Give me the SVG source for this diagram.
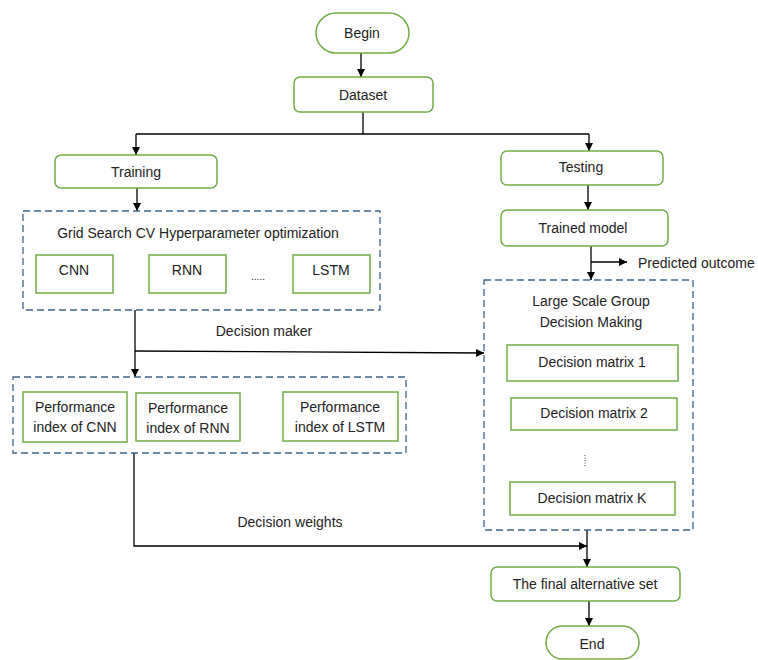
<svg xmlns="http://www.w3.org/2000/svg" width="758" height="660" viewBox="0 0 758 660">
<defs>
<marker id="ah" viewBox="0 0 10 10" refX="10" refY="5" markerWidth="8" markerHeight="8" markerUnits="userSpaceOnUse" orient="auto"><path d="M0,0 L10,5 L0,10 z" fill="#000"/></marker>
<style>
.n{fill:#fff;stroke:#70AD47;stroke-width:1.5}
.d{fill:none;stroke:#3E6489;stroke-width:1.3;stroke-dasharray:7,4}
.c{fill:none;stroke:#000;stroke-width:1.3}
text{font-family:"Liberation Sans",Arial,sans-serif;font-size:14px;fill:#222;text-anchor:middle;dominant-baseline:central}
</style>
</defs>
<rect width="758" height="660" fill="#fff"/>
<g id="connectors">
<path class="c" d="M361,53 V77" marker-end="url(#ah)"/>
<path class="c" d="M363,112 V134"/>
<path class="c" d="M136,134 H589"/>
<path class="c" d="M136,134 V155" marker-end="url(#ah)"/>
<path class="c" d="M589,134 V151" marker-end="url(#ah)"/>
<path class="c" d="M137,188 V211" marker-end="url(#ah)"/>
<path class="c" d="M588,185 V210" marker-end="url(#ah)"/>
<path class="c" d="M591,246 V280" marker-end="url(#ah)"/>
<path class="c" d="M591,262 H627" marker-end="url(#ah)"/>
<path class="c" d="M135,310 V377" marker-end="url(#ah)"/>
<path class="c" d="M135,351 L484,353" marker-end="url(#ah)"/>
<path class="c" d="M134,453 V546 H587" marker-end="url(#ah)"/>
<path class="c" d="M587,530 V567" marker-end="url(#ah)"/>
<path class="c" d="M589,601 V626" marker-end="url(#ah)"/>
</g>
<g id="begin"><rect class="n" x="316" y="13" width="93" height="40" rx="20"/><text x="362" y="33">Begin</text></g>
<g id="dataset"><rect class="n" x="294" y="77" width="139" height="35" rx="6"/><text x="363" y="95">Dataset</text></g>
<g id="training"><rect class="n" x="55" y="155" width="162" height="33" rx="6"/><text x="136" y="172">Training</text></g>
<g id="testing"><rect class="n" x="501" y="151" width="162" height="34" rx="6"/><text x="581" y="167">Testing</text></g>
<g id="trained"><rect class="n" x="501" y="210" width="167" height="36" rx="6"/><text x="583" y="228">Trained model</text></g>
<g id="predicted"><text x="638" y="263" style="text-anchor:start">Predicted outcome</text></g>
<g id="gridsearch">
<rect class="d" x="23" y="211" width="357" height="99"/>
<text x="198" y="233">Grid Search CV Hyperparameter optimization</text>
</g>
<g id="cnn"><rect class="n" x="36" y="255" width="77" height="38"/><text x="74" y="270">CNN</text></g>
<g id="rnn"><rect class="n" x="149" y="255" width="77" height="38"/><text x="187" y="270">RNN</text></g>
<g id="dots1"><text x="258" y="276" style="font-size:10px">.....</text></g>
<g id="lstm"><rect class="n" x="293" y="255" width="77" height="38"/><text x="331" y="270">LSTM</text></g>
<g id="dm-label"><text x="264" y="331">Decision maker</text></g>
<g id="perf">
<rect class="d" x="13" y="377" width="393" height="76"/>
</g>
<g id="pcnn"><rect class="n" x="23" y="392" width="104" height="50"/><text x="75" y="407">Performance</text><text x="75" y="427">index of CNN</text></g>
<g id="prnn"><rect class="n" x="136" y="393" width="104" height="48"/><text x="188" y="408">Performance</text><text x="188" y="428">index of RNN</text></g>
<g id="plstm"><rect class="n" x="283" y="392" width="115" height="49"/><text x="340" y="407">Performance</text><text x="340" y="427">index of LSTM</text></g>
<g id="dw-label"><text x="290" y="522">Decision weights</text></g>
<g id="lsgdm">
<rect class="d" x="484" y="280" width="209" height="250"/>
<text x="591" y="301">Large Scale Group</text>
<text x="591" y="322">Decision Making</text>
</g>
<g id="dm1"><rect class="n" x="507" y="345" width="171" height="36"/><text x="592" y="362">Decision matrix 1</text></g>
<g id="dm2"><rect class="n" x="511" y="398" width="166" height="32"/><text x="594" y="413">Decision matrix 2</text></g>
<g id="dots2"><path d="M585,455 V467" stroke="#444" stroke-width="1" stroke-dasharray="1,1.5"/></g>
<g id="dmk"><rect class="n" x="510" y="482" width="165" height="33"/><text x="592" y="498">Decision matrix K</text></g>
<g id="final"><rect class="n" x="491" y="567" width="189" height="34" rx="6"/><text x="585" y="584">The final alternative set</text></g>
<g id="end"><rect class="n" x="546" y="626" width="93" height="33" rx="16.5"/><text x="592" y="644">End</text></g>
</svg>
